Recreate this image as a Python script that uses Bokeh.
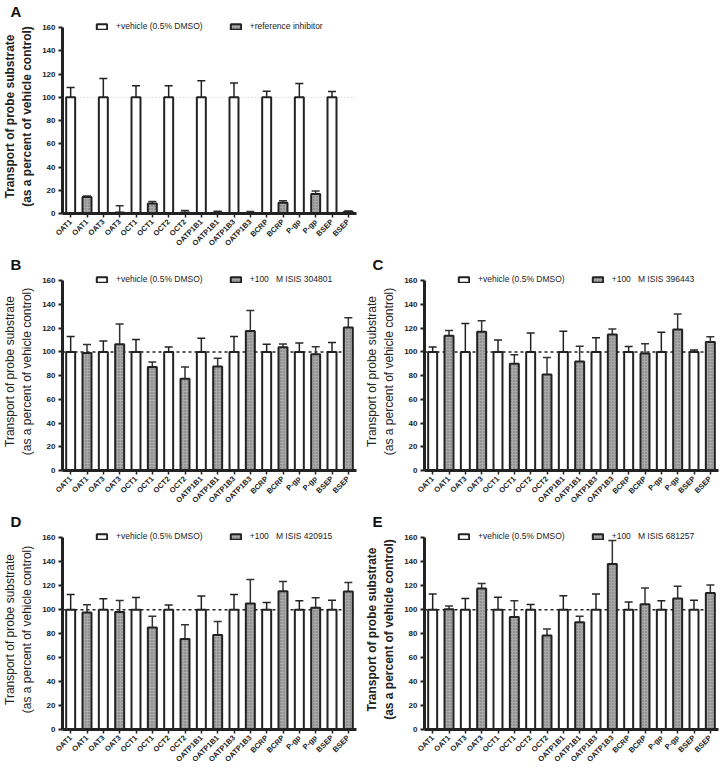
import math
from bokeh.plotting import figure
from bokeh.models import (ColumnDataSource, Whisker, Span, FixedTicker, TeeHead,
                          Legend, LegendItem)
from bokeh.layouts import column, row
from bokeh.embed import file_html
from bokeh.resources import INLINE

# ---------------- data ----------------
transporters = ["OAT1", "OAT3", "OCT1", "OCT2", "OATP1B1", "OATP1B3", "BCRP", "P-gp", "BSEP"]
tick_labels = [t for t in transporters for _ in range(2)]
vehicle_label = "+vehicle (0.5% DMSO)"

# Panel A
a_veh_mean = [100, 100, 100, 100, 100, 100, 100, 100, 100]
a_veh_sd = [8.5, 16.3, 10.0, 10.0, 14.2, 12.4, 5.2, 11.9, 5.0]
a_trt_mean = [14.2, 0.8, 8.6, 0.8, 0.8, 0.5, 9.2, 16.7, 1.4]
a_trt_sd = [0.8, 5.9, 1.7, 1.7, 1.2, 1.2, 1.8, 2.7, 0.8]
a_trt_label = "+reference inhibitor"

# Panel B
b_veh_mean = [100, 100, 100, 100, 100, 100, 100, 100, 100]
b_veh_sd = [13.0, 9.3, 10.5, 4.2, 11.6, 13.0, 6.4, 7.5, 8.0]
b_trt_mean = [99.2, 106.5, 87.2, 77.4, 87.8, 117.7, 104.0, 98.0, 120.7]
b_trt_sd = [7.0, 17.0, 4.3, 9.8, 6.9, 17.2, 2.7, 6.3, 8.1]
b_trt_label = "+100   M ISIS 304801"

# Panel C
c_veh_mean = [100, 100, 100, 100, 100, 100, 100, 100, 100]
c_veh_sd = [4.1, 24.0, 10.1, 16.0, 17.4, 12.0, 4.5, 16.7, 1.7]
c_trt_mean = [113.6, 117.0, 90.0, 81.0, 92.0, 114.7, 98.6, 119.0, 108.4]
c_trt_sd = [4.4, 9.4, 7.7, 14.4, 12.9, 4.6, 8.2, 12.9, 4.5]
c_trt_label = "+100   M ISIS 396443"

# Panel D
d_veh_mean = [100, 100, 100, 100, 100, 100, 100, 100, 100]
d_veh_sd = [12.8, 9.1, 10.3, 4.0, 11.4, 12.8, 6.0, 7.5, 8.0]
d_trt_mean = [97.6, 98.1, 85.2, 75.5, 79.0, 105.2, 115.5, 101.6, 115.2]
d_trt_sd = [6.6, 9.6, 9.3, 11.9, 11.1, 20.0, 8.0, 8.5, 7.5]
d_trt_label = "+100   M ISIS 420915"

# Panel E
e_veh_mean = [100, 100, 100, 100, 100, 100, 100, 100, 100]
e_veh_sd = [13.2, 9.3, 10.5, 4.3, 11.7, 13.2, 6.5, 7.5, 8.0]
e_trt_mean = [100.5, 117.7, 94.0, 78.4, 89.5, 138.2, 104.6, 109.4, 114.0]
e_trt_sd = [2.6, 4.3, 13.5, 5.6, 5.1, 19.6, 13.6, 10.2, 6.7]
e_trt_label = "+100   M ISIS 681257"

y_ticks = [0, 20, 40, 60, 80, 100, 120, 140, 160]
reference_level = 100

FONT = "Liberation Sans"
DARK = "#222222"


def make_panel(letter, veh_mean, veh_sd, trt_mean, trt_sd, trt_label,
               frame_h, bold_label, light_ref):
    n = len(transporters)
    x_veh = [2 * i + 1 for i in range(n)]
    x_trt = [2 * i + 2 for i in range(n)]

    p = figure(frame_width=294, frame_height=frame_h, x_range=(0.5, 18.5), y_range=(0, 167),
               output_backend="svg", toolbar_location=None,
               min_border_left=54, min_border_right=6, min_border_top=0,
               min_border_bottom=2)
    p.xgrid.visible = False
    p.ygrid.visible = False
    p.outline_line_color = None
    p.background_fill_color = "white"

    # reference line at 100
    if light_ref:
        span = Span(location=reference_level, dimension="width", line_color="#cccccc",
                    line_dash="1 2", line_width=1, level="underlay")
    else:
        span = Span(location=reference_level, dimension="width", line_color=DARK,
                    line_dash="3 3", line_width=1.5, level="underlay")
    p.add_layout(span)

    src_v = ColumnDataSource(dict(
        x=x_veh, top=veh_mean,
        lower=[max(m - s, 0) for m, s in zip(veh_mean, veh_sd)],
        upper=[m + s for m, s in zip(veh_mean, veh_sd)]))
    src_t = ColumnDataSource(dict(
        x=x_trt, top=trt_mean,
        lower=[max(m - s, 0) for m, s in zip(trt_mean, trt_sd)],
        upper=[m + s for m, s in zip(trt_mean, trt_sd)]))

    r1 = p.vbar(x="x", top="top", bottom=0, width=0.55, source=src_v,
                fill_color="white", line_color=DARK, line_width=2)
    r2 = p.vbar(x="x", top="top", bottom=0, width=0.55, source=src_t,
                fill_color="#a9a9a9", line_color=DARK, line_width=2,
                hatch_pattern="dot", hatch_color="#707070", hatch_scale=3,
                hatch_weight=0.8)

    for src, col in ((src_v, DARK), (src_t, "#333333")):
        w = Whisker(base="x", lower="lower", upper="upper", source=src,
                    line_color=col, line_width=1.5,
                    upper_head=TeeHead(size=8, line_color=col, line_width=1.5),
                    lower_head=TeeHead(size=8, line_color=col, line_width=1.5))
        p.add_layout(w)

    legend = Legend(items=[LegendItem(label=vehicle_label, renderers=[r1]),
                           LegendItem(label=trt_label, renderers=[r2])],
                    orientation="horizontal", location=(33, frame_h - 12),
                    border_line_alpha=0, background_fill_alpha=0,
                    label_text_font_size="8.5px", label_text_font=FONT,
                    label_text_color=DARK, glyph_width=13, glyph_height=7,
                    spacing=26, padding=0, margin=0, label_standoff=8,
                    label_height=10)
    p.add_layout(legend)

    # y axis
    ya = p.yaxis[0]
    ya.ticker = FixedTicker(ticks=y_ticks)
    ya.bounds = (0, 160)
    ya.axis_line_width = 3
    ya.axis_line_color = DARK
    ya.major_tick_line_width = 2
    ya.major_tick_line_color = DARK
    ya.major_tick_out = 4
    ya.major_tick_in = 0
    ya.minor_tick_out = 0
    ya.minor_tick_in = 0
    ya.major_label_text_font = FONT
    ya.major_label_text_font_size = "8px"
    ya.major_label_text_font_style = "bold"
    ya.major_label_text_color = DARK
    ya.major_label_standoff = 3
    ya.axis_label = "Transport of probe substrate\n(as a percent of vehicle control)"
    ya.axis_label_text_font = FONT
    ya.axis_label_text_font_size = "12px"
    ya.axis_label_text_font_style = "bold" if bold_label else "normal"
    ya.axis_label_text_color = DARK
    ya.axis_label_standoff = 5

    # x axis
    xa = p.xaxis[0]
    xa.ticker = FixedTicker(ticks=list(range(1, 19)))
    xa.major_label_overrides = {i + 1: lab for i, lab in enumerate(tick_labels)}
    xa.major_label_orientation = math.pi / 4
    xa.axis_line_width = 3
    xa.axis_line_color = DARK
    xa.major_tick_line_width = 1.5
    xa.major_tick_line_color = DARK
    xa.major_tick_out = 4
    xa.major_tick_in = 0
    xa.minor_tick_out = 0
    xa.major_label_text_font = FONT
    xa.major_label_text_font_size = "7.5px"
    xa.major_label_text_font_style = "bold"
    xa.major_label_text_color = DARK
    xa.major_label_standoff = 3

    p.title.text = letter
    p.title.text_font = FONT
    p.title.text_font_size = "15px"
    p.title.text_font_style = "bold"
    p.title.text_color = "#111111"
    p.title.offset = -52
    p.title.standoff = 0
    return p


pA = make_panel("A", a_veh_mean, a_veh_sd, a_trt_mean, a_trt_sd, a_trt_label,
                194, True, True)
pB = make_panel("B", b_veh_mean, b_veh_sd, b_trt_mean, b_trt_sd, b_trt_label,
                198, False, False)
pC = make_panel("C", c_veh_mean, c_veh_sd, c_trt_mean, c_trt_sd, c_trt_label,
                198, False, False)
pD = make_panel("D", d_veh_mean, d_veh_sd, d_trt_mean, d_trt_sd, d_trt_label,
                200, False, False)
pE = make_panel("E", e_veh_mean, e_veh_sd, e_trt_mean, e_trt_sd, e_trt_label,
                200, True, False)

layout = column(row(pA, spacing=0), row(pB, pC, spacing=0), row(pD, pE, spacing=0),
                spacing=0)

open("out.html", "w").write(file_html(layout, INLINE))
